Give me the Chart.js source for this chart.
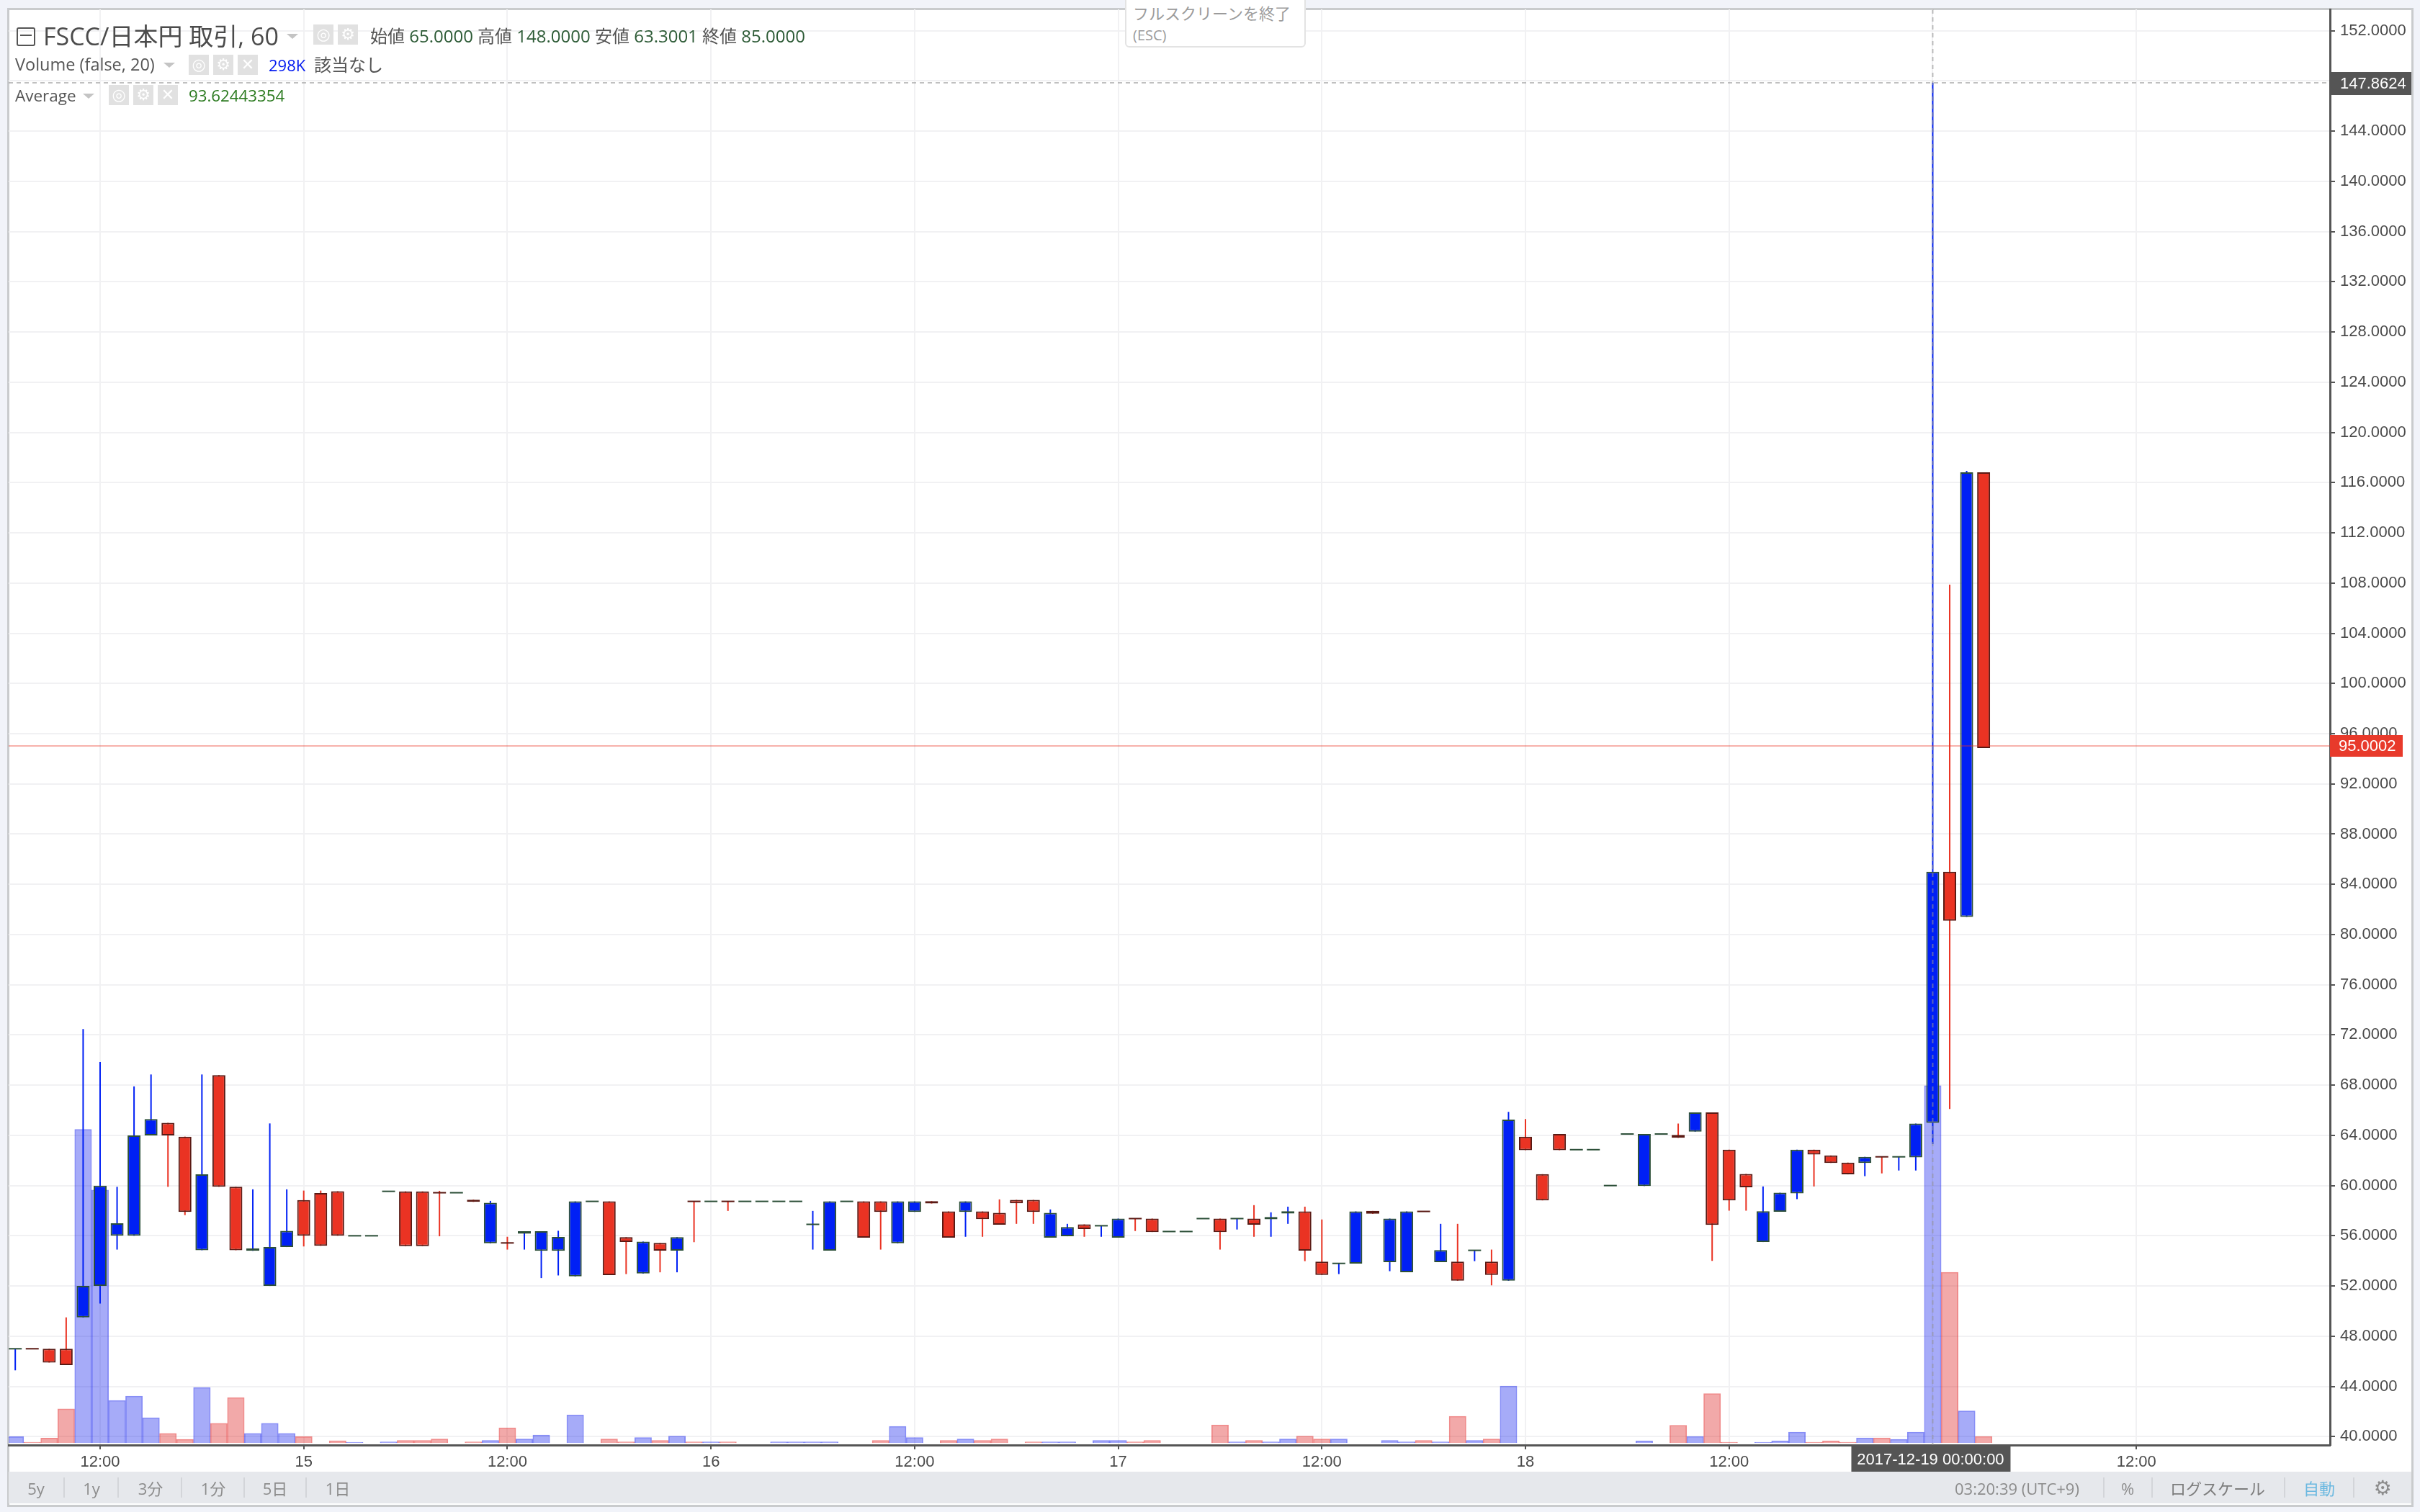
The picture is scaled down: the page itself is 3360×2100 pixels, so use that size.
<!DOCTYPE html>
<html lang="ja">
<head>
<meta charset="utf-8">
<title>FSCC/日本円</title>
<script src="https://cdn.jsdelivr.net/npm/chart.js@4"></script>
<style>
html,body{margin:0;padding:0;width:3360px;height:2100px;overflow:hidden;background:#f1f3f9;}
#frame{position:absolute;left:10px;top:11px;width:3335px;height:2076px;background:#fff;border:3px solid #c9cbcd;border-width:3px;box-sizing:content-box;}
#bar{position:absolute;left:12px;top:2044px;width:3336px;height:44px;background:#e6e8ec;}
canvas{position:absolute;left:0;top:0;}
.t{position:absolute;white-space:nowrap;font-family:"Open Sans","Noto Sans CJK JP",sans-serif;line-height:1;transform:translateY(-50%);}
.c{transform:translate(-50%,-50%);}
.ic{position:absolute;background:#e1e1e1;color:#fff;text-align:center;font-family:"DejaVu Sans",sans-serif;font-weight:bold;}
.ar{position:absolute;width:0;height:0;border-left:8px solid transparent;border-right:8px solid transparent;border-top:7px solid #c4c4c4;}
.sep{position:absolute;top:2052px;height:28px;width:2px;background:#d3d5d9;}
.m{color:#8c8c8c;font-size:22px;}
#toast{position:absolute;left:1562px;top:-6px;width:251px;height:72px;background:#fff;border:2px solid #e3e3e3;border-radius:6px;box-sizing:border-box;}
</style>
</head>
<body>
<div id="frame"></div>
<div id="bar"></div>
<canvas id="c" width="3360" height="2100"></canvas>

<div id="toast"></div>
<div class="t" style="left:1573px;top:18px;font-size:22px;color:#9b9b9b;">フルスクリーンを終了</div>
<div class="t" style="left:1573px;top:49px;font-size:20px;color:#9b9b9b;">(ESC)</div>

<div style="position:absolute;left:23px;top:38px;width:22px;height:22px;border:2px solid #555;border-radius:3px;"></div>
<div style="position:absolute;left:28px;top:48px;width:16px;height:2px;background:#555;"></div>
<div class="t" style="left:60px;top:50px;font-size:34px;color:#4b4b4b;">FSCC/日本円 取引, 60</div>
<div class="ar" style="left:398px;top:47px;"></div>
<div class="ic" style="left:435px;top:34px;width:28px;height:28px;font-size:22px;line-height:28px;">◎</div>
<div class="ic" style="left:469px;top:34px;width:28px;height:28px;font-size:22px;line-height:28px;">⚙</div>
<div class="t" style="left:514px;top:50px;font-size:24px;color:#555;">始値 <span style="color:#2c5a35">65.0000</span> 高値 <span style="color:#2c5a35">148.0000</span> 安値 <span style="color:#2c5a35">63.3001</span> 終値 <span style="color:#2c5a35">85.0000</span></div>

<div class="t" style="left:21px;top:90px;font-size:23.5px;color:#555;">Volume (false, 20)</div>
<div class="ar" style="left:227px;top:87px;"></div>
<div class="ic" style="left:262px;top:76px;width:28px;height:28px;font-size:22px;line-height:28px;">◎</div>
<div class="ic" style="left:296px;top:76px;width:28px;height:28px;font-size:22px;line-height:28px;">⚙</div>
<div class="ic" style="left:330px;top:76px;width:28px;height:28px;font-size:22px;line-height:28px;">✕</div>
<div class="t" style="left:373px;top:90px;font-size:22px;color:#0018f0;">298K</div>
<div class="t" style="left:436px;top:90px;font-size:24px;color:#555;">該当なし</div>

<div class="t" style="left:21px;top:133px;font-size:22.5px;color:#555;">Average</div>
<div class="ar" style="left:115px;top:130px;"></div>
<div class="ic" style="left:151px;top:118px;width:28px;height:28px;font-size:22px;line-height:28px;">◎</div>
<div class="ic" style="left:185px;top:118px;width:28px;height:28px;font-size:22px;line-height:28px;">⚙</div>
<div class="ic" style="left:219px;top:118px;width:28px;height:28px;font-size:22px;line-height:28px;">✕</div>
<div class="t" style="left:262px;top:133px;font-size:22.3px;color:#2b7a1f;">93.62443354</div>

<div class="t c m" style="left:50px;top:2067px;">5y</div>
<div class="sep" style="left:88px;"></div>
<div class="t c m" style="left:127px;top:2067px;">1y</div>
<div class="sep" style="left:163px;"></div>
<div class="t c m" style="left:209px;top:2067px;">3分</div>
<div class="sep" style="left:251px;"></div>
<div class="t c m" style="left:296px;top:2067px;">1分</div>
<div class="sep" style="left:338px;"></div>
<div class="t c m" style="left:382px;top:2067px;">5日</div>
<div class="sep" style="left:424px;"></div>
<div class="t c m" style="left:469px;top:2067px;">1日</div>

<div class="t m" style="left:2714px;top:2067px;">03:20:39 <span style="font-size:22px">(UTC+9)</span></div>
<div class="sep" style="left:2920px;"></div>
<div class="t c m" style="left:2954px;top:2067px;">%</div>
<div class="sep" style="left:2987px;"></div>
<div class="t c" style="left:3079px;top:2067px;font-size:22px;color:#7d7d7d;">ログスケール</div>
<div class="sep" style="left:3171px;"></div>
<div class="t c" style="left:3220px;top:2067px;font-size:22px;color:#6ab8e0;">自動</div>
<div class="sep" style="left:3267px;"></div>
<div class="t c" style="left:3308px;top:2067px;font-size:28px;color:#8c8c8c;font-family:'DejaVu Sans';">⚙</div>

<script>
// Hourly bars, index 0 = 2017-12-14 07:00
const open = [47,47.01,47,47,49.5,52,56,56,64,65,63.9,54.85,68.8,59.9,54.8,52,55.1,58.85,59.4,59.55,
  56,56,59.54,59.54,59.54,59.44,59.43,58.88,55.4,55.44,56.17,54.8,54.8,52.76,58.74,58.74,55.89,52.99,55.43,54.82,
  58.75,58.74,58.75,58.74,58.74,58.74,58.74,56.91,54.82,58.74,58.74,58.74,55.4,57.9,58.76,57.94,57.9,57.94,57.83,58.86,
  58.86,55.85,55.96,56.91,56.8,55.85,57.38,57.37,56.34,56.34,57.37,57.37,57.37,57.37,57.31,57.77,57.94,53.94,53.8,53.79,
  57.98,53.9,53.1,57.95,53.9,53.94,54.84,53.94,52.42,63.89,60.91,64.11,62.86,62.86,60,64.11,59.96,64.11,64.04,64.3,
  65.83,62.86,60.93,55.5,57.92,59.37,62.86,62.4,61.83,61.8,62.3,62.29,62.25,65,85,81.4,116.82];
const high = [47,47.01,47,49.5,72.47,69.85,59.9,67.9,68.85,65,63.9,68.85,68.8,59.9,59.7,64.95,59.7,59.6,59.6,59.55,
  56,56,59.54,59.54,59.54,59.58,59.43,58.88,58.78,55.92,56.36,56.36,56.4,58.74,58.74,58.74,55.89,55.54,55.43,55.89,
  58.75,58.74,58.75,58.74,58.74,58.74,58.74,57.98,58.74,58.74,58.74,58.74,58.74,58.74,58.76,57.94,58.74,57.94,58.9,58.86,
  58.86,58.1,56.95,56.91,56.8,57.37,57.38,57.37,56.34,56.34,57.37,57.37,57.37,58.44,57.87,58.32,58.32,57.3,53.8,57.94,
  57.98,57.37,57.94,57.95,56.95,56.95,54.84,54.9,65.87,65.3,60.91,64.11,62.86,62.86,60,64.11,64.11,64.11,64.94,65.83,
  65.83,62.86,60.93,59.93,59.43,62.86,62.86,62.4,61.83,62.29,62.3,62.29,64.94,147.86,107.87,116.94,116.82];
const low = [45.28,47,45.9,45.7,49.5,50.6,54.9,56,64,59.9,57.65,54.85,59.9,54.85,54.8,52,55.1,55.15,55.2,56,
  56,56,59.54,55.18,55.18,55.96,59.43,58.7,55.4,54.9,54.9,52.63,52.84,52.76,58.74,52.87,52.95,52.99,53.09,53.09,
  55.49,58.74,57.98,58.74,58.74,58.74,58.74,54.9,54.82,58.74,55.85,54.9,55.4,57.9,58.57,55.85,55.92,55.92,56.88,56.95,
  56.95,55.85,55.96,55.92,55.92,55.85,56.38,56.3,56.34,56.34,57.37,54.9,56.5,55.92,55.92,56.95,53.98,52.88,52.95,53.79,
  57.75,53.18,53.1,57.94,53.9,52.42,53.98,52.05,52.42,62.82,58.82,62.82,62.86,62.86,60,64.11,59.96,64.11,63.8,64.3,
  54,58,58,55.5,57.92,58.92,59.93,61.8,60.89,60.75,60.97,61.2,61.2,63.3,66.1,81.4,94.85];
const close = [47,47,45.9,45.7,52,60,57,64,65.3,64,57.9,60.9,59.9,54.85,55,55.1,56.4,56,55.2,56,
  56,56,59.54,55.18,55.18,59.43,59.43,58.7,58.63,55.43,56.36,56.36,55.9,58.74,58.74,52.87,55.5,55.54,54.82,55.89,
  58.74,58.74,58.74,58.74,58.74,58.74,58.74,56.91,58.74,58.74,55.85,57.9,58.74,58.74,58.57,55.85,58.74,57.33,56.88,58.59,
  57.9,57.83,56.69,56.53,56.8,57.37,57.37,56.3,56.34,56.34,57.37,56.3,57.37,56.88,57.5,57.96,54.82,52.88,53.8,57.94,
  57.75,57.37,57.94,57.94,54.86,52.42,54.84,52.88,65.26,62.82,58.82,62.82,62.86,62.86,60,64.11,64.11,64.11,63.8,65.83,
  56.87,58.82,59.87,57.96,59.43,62.86,62.48,61.8,60.89,62.29,62.29,62.29,64.94,85,81.1,116.82,94.85];
// Volume in thousands
const volume = [5.6,1,4.4,28.7,261.6,211,35.8,39.4,21.3,8.3,3.4,46.5,16.7,38.2,8.3,16.7,8.3,5.6,0,2.2,
  1,0,1.2,2.4,2.4,3.6,0,1.2,2.4,13,3.6,7,0,23.8,0,3.6,1.2,4.8,2.4,6,
  1.2,1.2,1.2,0,0,1.2,1.2,1.2,1.2,0,0,2.4,14.2,4.8,0,2.4,3.6,2.4,3.6,0,
  1.2,1.2,1.2,0,2.4,2.4,1.2,2.4,0,0,0,15.4,1.2,2.4,1.2,3.6,6,3.6,3.6,0,
  0,2.4,1.2,2.4,1.2,22.6,2.4,3.6,47.8,0,0,0,0,0,0,0,2,0,15,5.8,
  41.5,1,0,1,2,9.3,1,2,1,4.5,4.5,3.3,9.3,298,142.6,27,5.8];
const priceTicks = [40,44,48,52,56,60,64,68,72,76,80,84,88,92,96,100,104,108,112,116,120,124,128,132,136,140,144,148,152];
const timeTickIndex = [5,17,29,41,53,65,77,89,101,113,125];
const timeTickLabels = ['12:00','15','12:00','16','12:00','17','12:00','18','12:00','','12:00'];
const crosshairIndex = 113;
const crosshairPrice = 147.8624;
const crosshairDate = '2017-12-19 00:00:00';
const lastPrice = 95.0002;

const FONT = '"Liberation Sans", Arial, sans-serif';
const UP='#0020f5', DOWN='#ea3323', UP_B='#2c4f38', DOWN_B='#5a1a14';
const isUp = i => close[i] >= open[i];
const isDoji = i => Math.abs(open[i]-close[i]) < 0.02;
const idx = open.map((_,i)=>i);

const volumeData = idx.filter(i=>volume[i]>0).map(i=>({x:i,y:volume[i],i}));
const wickData = idx.filter(i=>high[i]>low[i]).map(i=>({x:i,y:[low[i],high[i]],i}));
const bodyData = idx.filter(i=>!isDoji(i)).map(i=>({x:i,y:[Math.min(open[i],close[i]),Math.max(open[i],close[i])],i}));
const dojiUp = idx.filter(i=>isDoji(i)&&isUp(i)).map(i=>({x:i,y:close[i]}));
const dojiDown = idx.filter(i=>isDoji(i)&&!isUp(i)).map(i=>({x:i,y:close[i]}));

const noPad = s => { s.paddingTop=0; s.paddingBottom=0; s.paddingLeft=0; s.paddingRight=0; };

const overlay = {
  id:'overlay',
  afterDraw(chart){
    const {ctx,chartArea:a,scales:{x,y}} = chart;
    const cx = x.getPixelForValue(crosshairIndex), cy = Math.round(y.getPixelForValue(crosshairPrice)), ly = Math.round(y.getPixelForValue(lastPrice));
    ctx.save();
    ctx.lineWidth=2;
    ctx.strokeStyle='rgba(234,51,35,.38)';
    ctx.beginPath(); ctx.moveTo(a.left,ly); ctx.lineTo(a.right,ly); ctx.stroke();
    ctx.setLineDash([6,5]); ctx.strokeStyle='rgba(150,150,150,.6)';
    ctx.beginPath(); ctx.moveTo(a.left,cy); ctx.lineTo(a.right,cy); ctx.moveTo(cx,a.top); ctx.lineTo(cx,a.bottom); ctx.stroke();
    ctx.setLineDash([]);
    ctx.font='22px '+FONT; ctx.textBaseline='middle';
    ctx.fillStyle='#e83a2b'; ctx.fillRect(a.right,ly-15,101,30);
    ctx.fillStyle='#fff'; ctx.textAlign='left'; ctx.fillText(lastPrice.toFixed(4),a.right+12,ly+1);
    ctx.fillStyle='#555'; ctx.fillRect(a.right,cy-15,113,32);
    ctx.fillStyle='#fff'; ctx.fillText(crosshairPrice.toFixed(4),a.right+14,cy+2);
    ctx.fillStyle='#555'; ctx.fillRect(cx-113,a.bottom+1,221,36);
    ctx.fillStyle='#fff'; ctx.textAlign='center'; ctx.fillText(crosshairDate,cx-3,a.bottom+21);
    ctx.restore();
  }
};

new Chart(document.getElementById('c'),{
  type:'bar',
  data:{datasets:[
    {type:'bar',label:'Volume',data:volumeData,yAxisID:'v',xAxisID:'x',grouped:false,order:5,barThickness:24,borderWidth:2,borderSkipped:'bottom',inflateAmount:0,
      backgroundColor:c=>{const d=c.raw;return d&&isUp(d.i)?'rgba(1,15,235,.35)':'rgba(218,9,9,.35)';},
      borderColor:c=>{const d=c.raw;return d&&isUp(d.i)?'rgba(1,15,235,.47)':'rgba(225,25,25,.5)';}},
    {type:'bar',label:'Wick',data:wickData,yAxisID:'y',xAxisID:'x',grouped:false,order:3,barThickness:2,borderWidth:0,inflateAmount:0,
      backgroundColor:c=>{const d=c.raw;return d&&isUp(d.i)?UP:DOWN;}},
    {type:'bar',label:'Body',data:bodyData,yAxisID:'y',xAxisID:'x',grouped:false,order:2,barThickness:18,borderWidth:2,borderSkipped:false,inflateAmount:0,
      backgroundColor:c=>{const d=c.raw;return d&&isUp(d.i)?UP:DOWN;},
      borderColor:c=>{const d=c.raw;return d&&isUp(d.i)?UP_B:DOWN_B;}},
    {type:'scatter',label:'Doji up',data:dojiUp,yAxisID:'y',xAxisID:'x',order:1,showLine:false,pointStyle:'line',pointRadius:9,pointBorderWidth:2,pointBorderColor:UP_B,pointBackgroundColor:UP_B},
    {type:'scatter',label:'Doji down',data:dojiDown,yAxisID:'y',xAxisID:'x',order:1,showLine:false,pointStyle:'line',pointRadius:9,pointBorderWidth:2,pointBorderColor:DOWN_B,pointBackgroundColor:DOWN_B}
  ]},
  options:{
    responsive:false,animation:false,devicePixelRatio:1,
    layout:{padding:{left:12,top:13,right:0,bottom:0}},
    plugins:{legend:{display:false},tooltip:{enabled:false}},
    events:[],
    scales:{
      x:{type:'linear',position:'bottom',offset:false,min:-0.39,max:136.41,
        grid:{offset:false,color:'#f1f1f3',lineWidth:2,tickColor:'#555',tickLength:6,drawTicks:true},
        border:{color:'#555',width:3},
        ticks:{padding:5,autoSkip:false,maxRotation:0,includeBounds:false,color:'#4a4a4a',font:{family:FONT,size:22},
          callback:v=>{const k=timeTickIndex.indexOf(v);return k<0?'':timeTickLabels[k];}},
        afterBuildTicks:s=>{s.ticks=timeTickIndex.map(v=>({value:v}));},
        afterFit:s=>{s.height=93;noPad(s);}},
      y:{type:'linear',position:'right',min:39.33,max:153.7,
        grid:{color:'#f1f1f3',lineWidth:2,tickColor:'#555',tickLength:7},
        border:{color:'#555',width:3},
        ticks:{padding:7,autoSkip:false,includeBounds:false,color:'#4a4a4a',font:{family:FONT,size:22},callback:v=>Number(v).toFixed(4)},
        afterBuildTicks:s=>{s.ticks=priceTicks.map(v=>({value:v}));},
        afterFit:s=>{s.width=125;noPad(s);}},
      v:{type:'linear',display:false,min:-1.6,max:1194.6,grid:{display:false}}
    }
  },
  plugins:[overlay]
});
</script>
</body>
</html>
